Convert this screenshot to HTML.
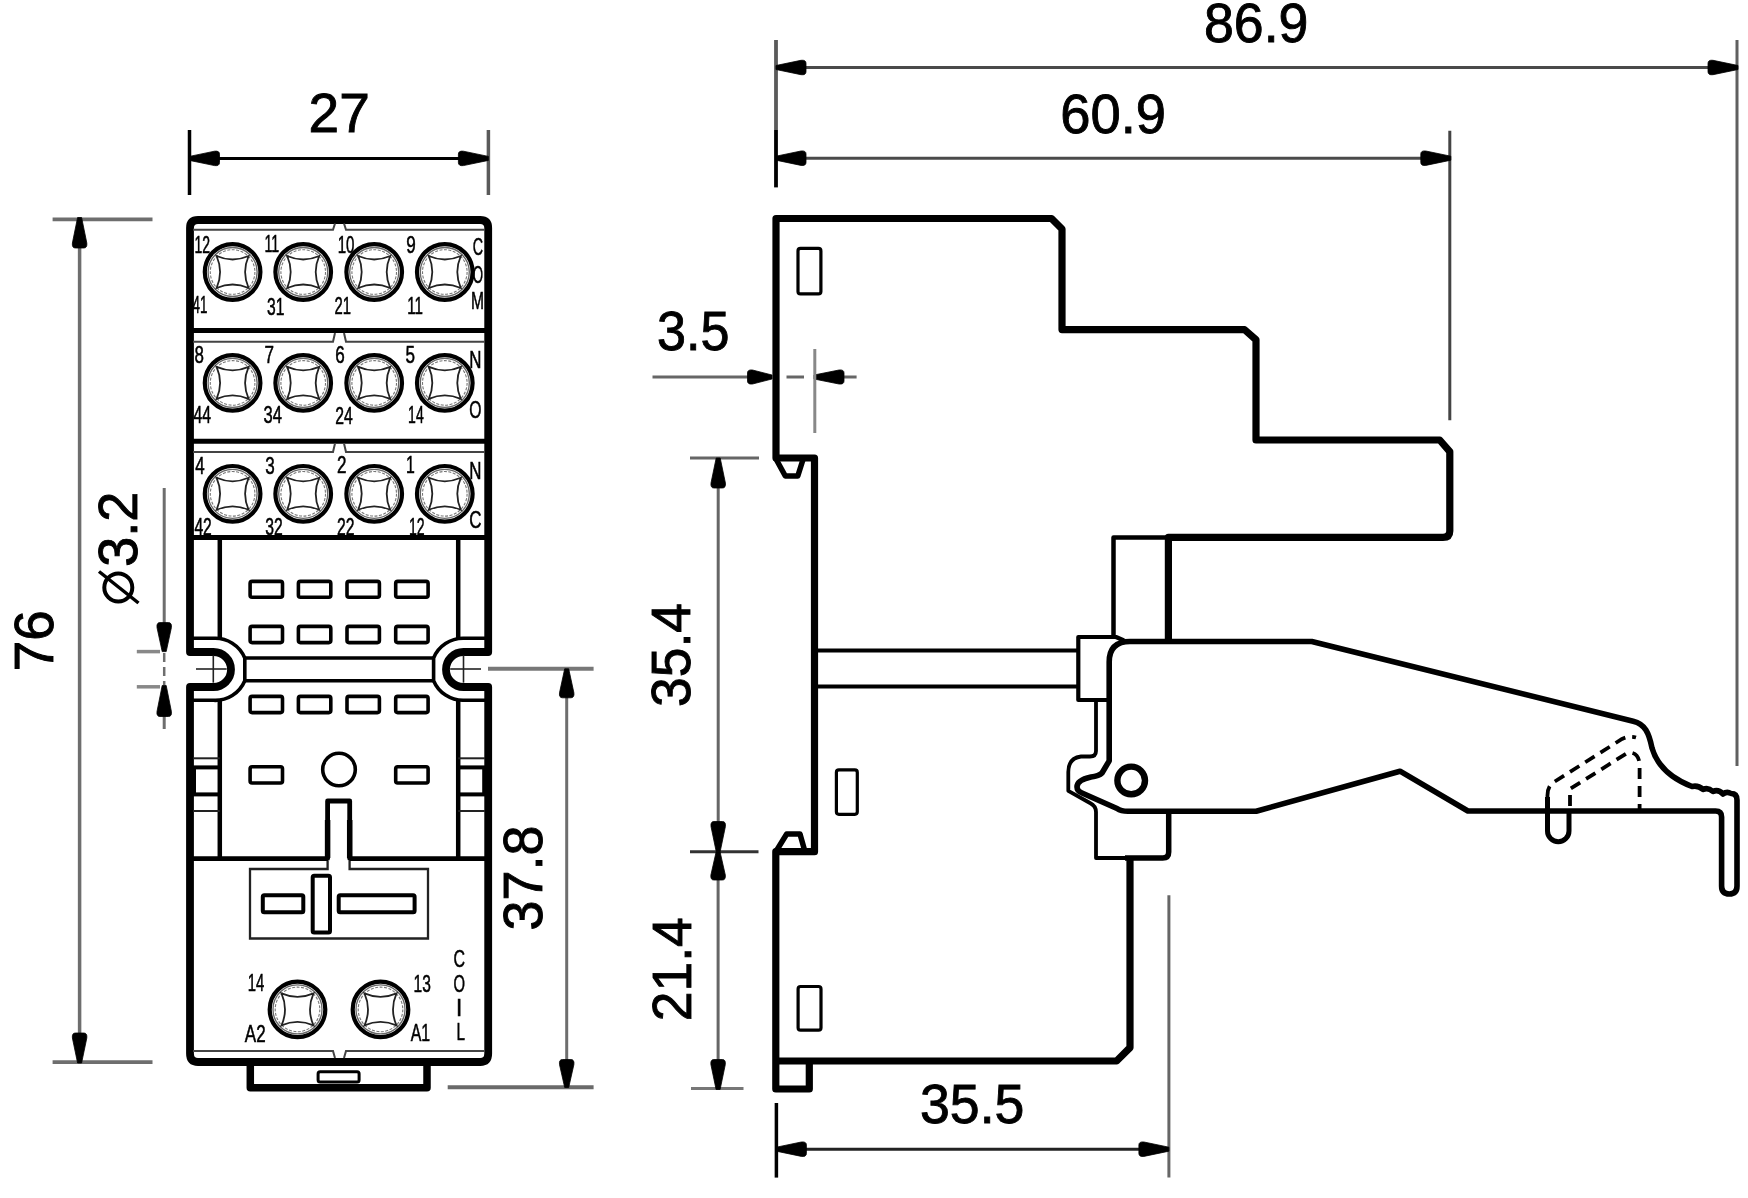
<!DOCTYPE html><html><head><meta charset="utf-8"><title>Relay socket drawing</title><style>html,body{margin:0;padding:0;background:#fff;width:1748px;height:1198px;overflow:hidden}svg{display:block;font-family:"Liberation Sans",sans-serif;will-change:transform}</style></head><body><svg width="1748" height="1198" viewBox="0 0 1748 1198" font-family="Liberation Sans, sans-serif" fill="#000">
<rect width="1748" height="1198" fill="#fff"/>
<line x1="189.5" y1="130" x2="189.5" y2="195" stroke="#000" stroke-width="3.5" />
<line x1="488.4" y1="130" x2="488.4" y2="195" stroke="#5a5a5a" stroke-width="3.5" />
<line x1="200" y1="158.4" x2="478" y2="158.4" stroke="#000" stroke-width="3" />
<path d="M-2.0,0 L2.0,0 L7.2,25.0 Q7.8,30 4.2,30 H-4.2 Q-7.8,30 -7.2,25.0 Z" fill="#000" stroke="#000" stroke-width="0.8" stroke-linejoin="round" transform="translate(189.5,158.4) rotate(270)"/>
<path d="M-2.0,0 L2.0,0 L7.2,25.0 Q7.8,30 4.2,30 H-4.2 Q-7.8,30 -7.2,25.0 Z" fill="#000" stroke="#000" stroke-width="0.8" stroke-linejoin="round" transform="translate(488.4,158.4) rotate(90)"/>
<text x="339.2" y="132" font-size="55" text-anchor="middle" stroke="#000" stroke-width="0.9">27</text>
<line x1="52.6" y1="219.3" x2="152.5" y2="219.3" stroke="#6e6e6e" stroke-width="3.8" />
<line x1="52.6" y1="1062.2" x2="152.5" y2="1062.2" stroke="#6e6e6e" stroke-width="3.8" />
<line x1="79.6" y1="235" x2="79.6" y2="1045" stroke="#6e6e6e" stroke-width="3.5" />
<path d="M-2.0,0 L2.0,0 L7.2,25.5 Q7.8,30.5 4.2,30.5 H-4.2 Q-7.8,30.5 -7.2,25.5 Z" fill="#000" stroke="#000" stroke-width="0.8" stroke-linejoin="round" transform="translate(79.6,217.5) rotate(0)"/>
<path d="M-2.0,0 L2.0,0 L7.2,25.0 Q7.8,30 4.2,30 H-4.2 Q-7.8,30 -7.2,25.0 Z" fill="#000" stroke="#000" stroke-width="0.8" stroke-linejoin="round" transform="translate(79.6,1063) rotate(180)"/>
<text x="0" y="0" font-size="55" text-anchor="middle" stroke="#000" stroke-width="0.9" textLength="60.9" lengthAdjust="spacingAndGlyphs" transform="translate(53.3,640.8) rotate(-90)">76</text>
<line x1="164.2" y1="488" x2="164.2" y2="640" stroke="#6e6e6e" stroke-width="3" />
<line x1="164.2" y1="653" x2="164.2" y2="685" stroke="#6e6e6e" stroke-width="2.5" stroke-dasharray="9 5"/>
<line x1="164.2" y1="700" x2="164.2" y2="729" stroke="#6e6e6e" stroke-width="3" />
<path d="M-2.0,0 L2.0,0 L7.2,24.0 Q7.8,29 4.2,29 H-4.2 Q-7.8,29 -7.2,24.0 Z" fill="#000" stroke="#000" stroke-width="0.8" stroke-linejoin="round" transform="translate(164.2,651.6) rotate(180)"/>
<path d="M-2.0,0 L2.0,0 L7.2,26.0 Q7.8,31 4.2,31 H-4.2 Q-7.8,31 -7.2,26.0 Z" fill="#000" stroke="#000" stroke-width="0.8" stroke-linejoin="round" transform="translate(164.2,685.5) rotate(0)"/>
<line x1="136.8" y1="651.6" x2="160" y2="651.6" stroke="#888" stroke-width="3.5" />
<line x1="136.8" y1="686.8" x2="160" y2="686.8" stroke="#888" stroke-width="3.5" />
<circle cx="118.3" cy="587.5" r="14" fill="none" stroke="#000" stroke-width="4"/>
<line x1="99" y1="571.5" x2="138.5" y2="603" stroke="#000" stroke-width="3.5" />
<text x="0" y="0" font-size="55" text-anchor="middle" stroke="#000" stroke-width="0.9" textLength="75.1" lengthAdjust="spacingAndGlyphs" transform="translate(137,529.3) rotate(-90)">3.2</text>
<line x1="488" y1="668.8" x2="593.6" y2="668.8" stroke="#777" stroke-width="4" />
<line x1="447.7" y1="1087.2" x2="593.6" y2="1087.2" stroke="#6a6a6a" stroke-width="4" />
<line x1="566.7" y1="680" x2="566.7" y2="1075" stroke="#6e6e6e" stroke-width="3" />
<path d="M-2.0,0 L2.0,0 L7.2,24.0 Q7.8,29 4.2,29 H-4.2 Q-7.8,29 -7.2,24.0 Z" fill="#000" stroke="#000" stroke-width="0.8" stroke-linejoin="round" transform="translate(566.7,668.8) rotate(0)"/>
<path d="M-2.0,0 L2.0,0 L7.2,23.0 Q7.8,28 4.2,28 H-4.2 Q-7.8,28 -7.2,23.0 Z" fill="#000" stroke="#000" stroke-width="0.8" stroke-linejoin="round" transform="translate(566.7,1087.5) rotate(180)"/>
<text x="0" y="0" font-size="55" text-anchor="middle" stroke="#000" stroke-width="0.9" textLength="104.8" lengthAdjust="spacingAndGlyphs" transform="translate(542.1,878) rotate(-90)">37.8</text>
<path d="M190,228 Q190,220 198,220 H480.2 Q488.2,220 488.2,228 V652.0 H463.5 A17.5,17.5 0 0 0 463.5,687.0 H488.2 V1053.5 Q488.2,1062 480.2,1062 H198 Q190,1062 190,1053.5 V687.0 H213.5 A17.5,17.5 0 0 0 213.5,652.0 H190 Z" fill="none" stroke="#000" stroke-width="7.8" stroke-linejoin="round"/>
<line x1="193" y1="330.5" x2="485" y2="330.5" stroke="#000" stroke-width="5" />
<line x1="193" y1="441.2" x2="485" y2="441.2" stroke="#000" stroke-width="5" />
<line x1="193" y1="537.5" x2="485" y2="537.5" stroke="#000" stroke-width="5" />
<path d="M193,229.8 H333 L335,223.5 M344,223.5 L346,229.8 H485" fill="none" stroke="#444" stroke-width="2"/>
<path d="M193,341.7 H333 L335,333 M344,333 L346,341.7 H485" fill="none" stroke="#444" stroke-width="2"/>
<path d="M193,452.0 H333 L335,443.5 M344,443.5 L346,452.0 H485" fill="none" stroke="#444" stroke-width="2"/>
<path d="M193,1051 H333 L335,1058 M344,1058 L346,1051 H485" fill="none" stroke="#444" stroke-width="2"/>
<circle cx="232.6" cy="272" r="27.8" fill="none" stroke="#000" stroke-width="4.2"/>
<circle cx="232.6" cy="272" r="24.5" fill="none" stroke="#666" stroke-width="1.3"/>
<circle cx="232.6" cy="272" r="22.3" fill="none" stroke="#777" stroke-width="1.1" stroke-dasharray="3 1.5"/>
<path d="M216.6,256 Q232.6,263.0 248.6,256 Q241.6,272 248.6,288 Q232.6,281.0 216.6,288 Q223.6,272 216.6,256Z" fill="none" stroke="#222" stroke-width="1.8"/>
<circle cx="303.2" cy="272" r="27.8" fill="none" stroke="#000" stroke-width="4.2"/>
<circle cx="303.2" cy="272" r="24.5" fill="none" stroke="#666" stroke-width="1.3"/>
<circle cx="303.2" cy="272" r="22.3" fill="none" stroke="#777" stroke-width="1.1" stroke-dasharray="3 1.5"/>
<path d="M287.2,256 Q303.2,263.0 319.2,256 Q312.2,272 319.2,288 Q303.2,281.0 287.2,288 Q294.2,272 287.2,256Z" fill="none" stroke="#222" stroke-width="1.8"/>
<circle cx="374.2" cy="272" r="27.8" fill="none" stroke="#000" stroke-width="4.2"/>
<circle cx="374.2" cy="272" r="24.5" fill="none" stroke="#666" stroke-width="1.3"/>
<circle cx="374.2" cy="272" r="22.3" fill="none" stroke="#777" stroke-width="1.1" stroke-dasharray="3 1.5"/>
<path d="M358.2,256 Q374.2,263.0 390.2,256 Q383.2,272 390.2,288 Q374.2,281.0 358.2,288 Q365.2,272 358.2,256Z" fill="none" stroke="#222" stroke-width="1.8"/>
<circle cx="444.8" cy="272" r="27.8" fill="none" stroke="#000" stroke-width="4.2"/>
<circle cx="444.8" cy="272" r="24.5" fill="none" stroke="#666" stroke-width="1.3"/>
<circle cx="444.8" cy="272" r="22.3" fill="none" stroke="#777" stroke-width="1.1" stroke-dasharray="3 1.5"/>
<path d="M428.8,256 Q444.8,263.0 460.8,256 Q453.8,272 460.8,288 Q444.8,281.0 428.8,288 Q435.8,272 428.8,256Z" fill="none" stroke="#222" stroke-width="1.8"/>
<circle cx="232.6" cy="382.9" r="27.8" fill="none" stroke="#000" stroke-width="4.2"/>
<circle cx="232.6" cy="382.9" r="24.5" fill="none" stroke="#666" stroke-width="1.3"/>
<circle cx="232.6" cy="382.9" r="22.3" fill="none" stroke="#777" stroke-width="1.1" stroke-dasharray="3 1.5"/>
<path d="M216.6,366.9 Q232.6,373.9 248.6,366.9 Q241.6,382.9 248.6,398.9 Q232.6,391.9 216.6,398.9 Q223.6,382.9 216.6,366.9Z" fill="none" stroke="#222" stroke-width="1.8"/>
<circle cx="303.2" cy="382.9" r="27.8" fill="none" stroke="#000" stroke-width="4.2"/>
<circle cx="303.2" cy="382.9" r="24.5" fill="none" stroke="#666" stroke-width="1.3"/>
<circle cx="303.2" cy="382.9" r="22.3" fill="none" stroke="#777" stroke-width="1.1" stroke-dasharray="3 1.5"/>
<path d="M287.2,366.9 Q303.2,373.9 319.2,366.9 Q312.2,382.9 319.2,398.9 Q303.2,391.9 287.2,398.9 Q294.2,382.9 287.2,366.9Z" fill="none" stroke="#222" stroke-width="1.8"/>
<circle cx="374.2" cy="382.9" r="27.8" fill="none" stroke="#000" stroke-width="4.2"/>
<circle cx="374.2" cy="382.9" r="24.5" fill="none" stroke="#666" stroke-width="1.3"/>
<circle cx="374.2" cy="382.9" r="22.3" fill="none" stroke="#777" stroke-width="1.1" stroke-dasharray="3 1.5"/>
<path d="M358.2,366.9 Q374.2,373.9 390.2,366.9 Q383.2,382.9 390.2,398.9 Q374.2,391.9 358.2,398.9 Q365.2,382.9 358.2,366.9Z" fill="none" stroke="#222" stroke-width="1.8"/>
<circle cx="444.8" cy="382.9" r="27.8" fill="none" stroke="#000" stroke-width="4.2"/>
<circle cx="444.8" cy="382.9" r="24.5" fill="none" stroke="#666" stroke-width="1.3"/>
<circle cx="444.8" cy="382.9" r="22.3" fill="none" stroke="#777" stroke-width="1.1" stroke-dasharray="3 1.5"/>
<path d="M428.8,366.9 Q444.8,373.9 460.8,366.9 Q453.8,382.9 460.8,398.9 Q444.8,391.9 428.8,398.9 Q435.8,382.9 428.8,366.9Z" fill="none" stroke="#222" stroke-width="1.8"/>
<circle cx="232.6" cy="493.8" r="27.8" fill="none" stroke="#000" stroke-width="4.2"/>
<circle cx="232.6" cy="493.8" r="24.5" fill="none" stroke="#666" stroke-width="1.3"/>
<circle cx="232.6" cy="493.8" r="22.3" fill="none" stroke="#777" stroke-width="1.1" stroke-dasharray="3 1.5"/>
<path d="M216.6,477.8 Q232.6,484.8 248.6,477.8 Q241.6,493.8 248.6,509.8 Q232.6,502.8 216.6,509.8 Q223.6,493.8 216.6,477.8Z" fill="none" stroke="#222" stroke-width="1.8"/>
<circle cx="303.2" cy="493.8" r="27.8" fill="none" stroke="#000" stroke-width="4.2"/>
<circle cx="303.2" cy="493.8" r="24.5" fill="none" stroke="#666" stroke-width="1.3"/>
<circle cx="303.2" cy="493.8" r="22.3" fill="none" stroke="#777" stroke-width="1.1" stroke-dasharray="3 1.5"/>
<path d="M287.2,477.8 Q303.2,484.8 319.2,477.8 Q312.2,493.8 319.2,509.8 Q303.2,502.8 287.2,509.8 Q294.2,493.8 287.2,477.8Z" fill="none" stroke="#222" stroke-width="1.8"/>
<circle cx="374.2" cy="493.8" r="27.8" fill="none" stroke="#000" stroke-width="4.2"/>
<circle cx="374.2" cy="493.8" r="24.5" fill="none" stroke="#666" stroke-width="1.3"/>
<circle cx="374.2" cy="493.8" r="22.3" fill="none" stroke="#777" stroke-width="1.1" stroke-dasharray="3 1.5"/>
<path d="M358.2,477.8 Q374.2,484.8 390.2,477.8 Q383.2,493.8 390.2,509.8 Q374.2,502.8 358.2,509.8 Q365.2,493.8 358.2,477.8Z" fill="none" stroke="#222" stroke-width="1.8"/>
<circle cx="444.8" cy="493.8" r="27.8" fill="none" stroke="#000" stroke-width="4.2"/>
<circle cx="444.8" cy="493.8" r="24.5" fill="none" stroke="#666" stroke-width="1.3"/>
<circle cx="444.8" cy="493.8" r="22.3" fill="none" stroke="#777" stroke-width="1.1" stroke-dasharray="3 1.5"/>
<path d="M428.8,477.8 Q444.8,484.8 460.8,477.8 Q453.8,493.8 460.8,509.8 Q444.8,502.8 428.8,509.8 Q435.8,493.8 428.8,477.8Z" fill="none" stroke="#222" stroke-width="1.8"/>
<text x="194.4" y="252.5" font-size="24" font-weight="normal" stroke="#000" stroke-width="0.55" textLength="15.599999999999994" lengthAdjust="spacingAndGlyphs">12</text>
<text x="264.4" y="251.6" font-size="24" font-weight="normal" stroke="#000" stroke-width="0.55" textLength="14.800000000000011" lengthAdjust="spacingAndGlyphs">11</text>
<text x="337.7" y="253.4" font-size="24" font-weight="normal" stroke="#000" stroke-width="0.55" textLength="16.80000000000001" lengthAdjust="spacingAndGlyphs">10</text>
<text x="406.3" y="252.5" font-size="24" font-weight="normal" stroke="#000" stroke-width="0.55" textLength="9.5" lengthAdjust="spacingAndGlyphs">9</text>
<text x="192.5" y="312.8" font-size="24" font-weight="normal" stroke="#000" stroke-width="0.55" textLength="14.900000000000006" lengthAdjust="spacingAndGlyphs">41</text>
<text x="267.1" y="315.4" font-size="24" font-weight="normal" stroke="#000" stroke-width="0.55" textLength="17.399999999999977" lengthAdjust="spacingAndGlyphs">31</text>
<text x="334.5" y="313.7" font-size="24" font-weight="normal" stroke="#000" stroke-width="0.55" textLength="16.5" lengthAdjust="spacingAndGlyphs">21</text>
<text x="407.2" y="313.7" font-size="24" font-weight="normal" stroke="#000" stroke-width="0.55" textLength="15.699999999999989" lengthAdjust="spacingAndGlyphs">11</text>
<text x="472.8" y="255.1" font-size="24" font-weight="normal" stroke="#000" stroke-width="0.55" textLength="10.300000000000011" lengthAdjust="spacingAndGlyphs">C</text>
<text x="472.8" y="282.6" font-size="24" font-weight="normal" stroke="#000" stroke-width="0.55" textLength="10.300000000000011" lengthAdjust="spacingAndGlyphs">O</text>
<text x="471.0" y="309.2" font-size="24" font-weight="normal" stroke="#000" stroke-width="0.55" textLength="13.0" lengthAdjust="spacingAndGlyphs">M</text>
<text x="194.4" y="362.5" font-size="24" font-weight="normal" stroke="#000" stroke-width="0.55" textLength="9.400000000000006" lengthAdjust="spacingAndGlyphs">8</text>
<text x="264.4" y="362.5" font-size="24" font-weight="normal" stroke="#000" stroke-width="0.55" textLength="9.5" lengthAdjust="spacingAndGlyphs">7</text>
<text x="335.3" y="362.5" font-size="24" font-weight="normal" stroke="#000" stroke-width="0.55" textLength="9.5" lengthAdjust="spacingAndGlyphs">6</text>
<text x="405.4" y="362.5" font-size="24" font-weight="normal" stroke="#000" stroke-width="0.55" textLength="9.5" lengthAdjust="spacingAndGlyphs">5</text>
<text x="193.5" y="422.8" font-size="24" font-weight="normal" stroke="#000" stroke-width="0.55" textLength="17.5" lengthAdjust="spacingAndGlyphs">44</text>
<text x="263.5" y="422.8" font-size="24" font-weight="normal" stroke="#000" stroke-width="0.55" textLength="18.399999999999977" lengthAdjust="spacingAndGlyphs">34</text>
<text x="335.3" y="423.7" font-size="24" font-weight="normal" stroke="#000" stroke-width="0.55" textLength="17.5" lengthAdjust="spacingAndGlyphs">24</text>
<text x="408.1" y="422.8" font-size="24" font-weight="normal" stroke="#000" stroke-width="0.55" textLength="15.599999999999966" lengthAdjust="spacingAndGlyphs">14</text>
<text x="469.2" y="367.8" font-size="24" font-weight="normal" stroke="#000" stroke-width="0.55" textLength="12.199999999999989" lengthAdjust="spacingAndGlyphs">N</text>
<text x="469.2" y="417.5" font-size="24" font-weight="normal" stroke="#000" stroke-width="0.55" textLength="12.199999999999989" lengthAdjust="spacingAndGlyphs">O</text>
<text x="195.3" y="474.3" font-size="24" font-weight="normal" stroke="#000" stroke-width="0.55" textLength="9.399999999999977" lengthAdjust="spacingAndGlyphs">4</text>
<text x="265.3" y="474.3" font-size="24" font-weight="normal" stroke="#000" stroke-width="0.55" textLength="9.5" lengthAdjust="spacingAndGlyphs">3</text>
<text x="337.1" y="473.4" font-size="24" font-weight="normal" stroke="#000" stroke-width="0.55" textLength="9.5" lengthAdjust="spacingAndGlyphs">2</text>
<text x="406.1" y="472.5" font-size="24" font-weight="normal" stroke="#000" stroke-width="0.55" textLength="8.799999999999955" lengthAdjust="spacingAndGlyphs">1</text>
<text x="194.4" y="534.6" font-size="24" font-weight="normal" stroke="#000" stroke-width="0.55" textLength="17.400000000000006" lengthAdjust="spacingAndGlyphs">42</text>
<text x="265.3" y="534.6" font-size="24" font-weight="normal" stroke="#000" stroke-width="0.55" textLength="17.5" lengthAdjust="spacingAndGlyphs">32</text>
<text x="337.1" y="534.6" font-size="24" font-weight="normal" stroke="#000" stroke-width="0.55" textLength="17.5" lengthAdjust="spacingAndGlyphs">22</text>
<text x="408.9" y="534.6" font-size="24" font-weight="normal" stroke="#000" stroke-width="0.55" textLength="15.700000000000045" lengthAdjust="spacingAndGlyphs">12</text>
<text x="469.2" y="478.7" font-size="24" font-weight="normal" stroke="#000" stroke-width="0.55" textLength="12.199999999999989" lengthAdjust="spacingAndGlyphs">N</text>
<text x="469.2" y="528.3" font-size="24" font-weight="normal" stroke="#000" stroke-width="0.55" textLength="12.199999999999989" lengthAdjust="spacingAndGlyphs">C</text>
<line x1="219.8" y1="538" x2="219.8" y2="638.5" stroke="#000" stroke-width="4.5" />
<line x1="219.8" y1="700.5" x2="219.8" y2="858.5" stroke="#000" stroke-width="4.5" />
<line x1="458.2" y1="538" x2="458.2" y2="638.5" stroke="#000" stroke-width="4.5" />
<line x1="458.2" y1="700.5" x2="458.2" y2="858.5" stroke="#000" stroke-width="4.5" />
<path d="M193,638.3 H213.5 A32,32 0 0 1 244.8,658 V680.7 A32,32 0 0 1 213.5,700.3 H193" fill="none" stroke="#000" stroke-width="3.6" stroke-linejoin="round"/>
<path d="M485,638.3 H463.5 A32,32 0 0 0 433.6,658 V680.7 A32,32 0 0 0 463.5,700.3 H485" fill="none" stroke="#000" stroke-width="3.6" stroke-linejoin="round"/>
<line x1="244.8" y1="658" x2="433.6" y2="658" stroke="#000" stroke-width="3.6" />
<line x1="244.8" y1="680.7" x2="433.6" y2="680.7" stroke="#000" stroke-width="3.6" />
<line x1="196" y1="669" x2="226.7" y2="669" stroke="#222" stroke-width="1.6" />
<line x1="213.3" y1="655.3" x2="213.3" y2="682.7" stroke="#222" stroke-width="1.6" />
<line x1="450.2" y1="669" x2="481" y2="669" stroke="#222" stroke-width="1.6" />
<line x1="463.5" y1="655.3" x2="463.5" y2="682.7" stroke="#222" stroke-width="1.6" />
<line x1="193" y1="758.3" x2="219.8" y2="758.3" stroke="#222" stroke-width="2" />
<line x1="193" y1="767.4" x2="219.8" y2="767.4" stroke="#000" stroke-width="4" />
<line x1="193" y1="794.4" x2="219.8" y2="794.4" stroke="#000" stroke-width="4" />
<line x1="193" y1="811" x2="219.8" y2="811" stroke="#222" stroke-width="2" />
<line x1="458.2" y1="758.3" x2="485" y2="758.3" stroke="#222" stroke-width="2" />
<line x1="458.2" y1="767.4" x2="485" y2="767.4" stroke="#000" stroke-width="4" />
<line x1="458.2" y1="794.4" x2="485" y2="794.4" stroke="#000" stroke-width="4" />
<line x1="458.2" y1="811" x2="485" y2="811" stroke="#222" stroke-width="2" />
<line x1="194.5" y1="767.4" x2="194.5" y2="794.4" stroke="#000" stroke-width="3" />
<line x1="483.7" y1="767.4" x2="483.7" y2="794.4" stroke="#000" stroke-width="3" />
<rect x="250.10000000000002" y="581.4" width="32.4" height="15.799999999999978" rx="2" fill="none" stroke="#000" stroke-width="3.6"/>
<rect x="298.40000000000003" y="581.4" width="32.4" height="15.799999999999978" rx="2" fill="none" stroke="#000" stroke-width="3.6"/>
<rect x="347.0" y="581.4" width="32.4" height="15.799999999999978" rx="2" fill="none" stroke="#000" stroke-width="3.6"/>
<rect x="395.7" y="581.4" width="32.4" height="15.799999999999978" rx="2" fill="none" stroke="#000" stroke-width="3.6"/>
<rect x="250.10000000000002" y="626.4" width="32.4" height="16.199999999999953" rx="2" fill="none" stroke="#000" stroke-width="3.6"/>
<rect x="298.40000000000003" y="626.4" width="32.4" height="16.199999999999953" rx="2" fill="none" stroke="#000" stroke-width="3.6"/>
<rect x="347.0" y="626.4" width="32.4" height="16.199999999999953" rx="2" fill="none" stroke="#000" stroke-width="3.6"/>
<rect x="395.7" y="626.4" width="32.4" height="16.199999999999953" rx="2" fill="none" stroke="#000" stroke-width="3.6"/>
<rect x="250.10000000000002" y="696.4" width="32.4" height="16.199999999999953" rx="2" fill="none" stroke="#000" stroke-width="3.6"/>
<rect x="298.40000000000003" y="696.4" width="32.4" height="16.199999999999953" rx="2" fill="none" stroke="#000" stroke-width="3.6"/>
<rect x="347.0" y="696.4" width="32.4" height="16.199999999999953" rx="2" fill="none" stroke="#000" stroke-width="3.6"/>
<rect x="395.7" y="696.4" width="32.4" height="16.199999999999953" rx="2" fill="none" stroke="#000" stroke-width="3.6"/>
<rect x="250.10000000000002" y="766.8" width="32.4" height="16.199999999999953" rx="2" fill="none" stroke="#000" stroke-width="3.6"/>
<rect x="395.7" y="766.8" width="32.4" height="16.199999999999953" rx="2" fill="none" stroke="#000" stroke-width="3.6"/>
<circle cx="339" cy="769.5" r="16.3" fill="none" stroke="#000" stroke-width="3.6"/>
<path d="M193,858.6 H327.6 V801 H349.7 V858.6 H485" fill="none" stroke="#000" stroke-width="4.8" stroke-linejoin="round"/>
<line x1="327.6" y1="820" x2="327.6" y2="858" stroke="#000" stroke-width="5.5" />
<line x1="349.7" y1="820" x2="349.7" y2="858" stroke="#000" stroke-width="5.5" />
<path d="M327.6,861 V869 H250 V938.5 H428 V869 H349.6 V861" fill="none" stroke="#222" stroke-width="2.3"/>
<rect x="262.8" y="895.2" width="40.5" height="17.09999999999991" rx="1.5" fill="none" stroke="#000" stroke-width="4"/>
<rect x="312.7" y="875.7" width="17.30000000000001" height="56.69999999999993" rx="1.5" fill="none" stroke="#000" stroke-width="4"/>
<rect x="338.7" y="895.2" width="75.90000000000003" height="17.09999999999991" rx="1.5" fill="none" stroke="#000" stroke-width="4"/>
<circle cx="297.5" cy="1009.4" r="27.8" fill="none" stroke="#000" stroke-width="4.2"/>
<circle cx="297.5" cy="1009.4" r="24.5" fill="none" stroke="#666" stroke-width="1.3"/>
<circle cx="297.5" cy="1009.4" r="22.3" fill="none" stroke="#777" stroke-width="1.1" stroke-dasharray="3 1.5"/>
<path d="M281.5,993.4 Q297.5,1000.4 313.5,993.4 Q306.5,1009.4 313.5,1025.4 Q297.5,1018.4 281.5,1025.4 Q288.5,1009.4 281.5,993.4Z" fill="none" stroke="#222" stroke-width="1.8"/>
<circle cx="380.5" cy="1009.4" r="27.8" fill="none" stroke="#000" stroke-width="4.2"/>
<circle cx="380.5" cy="1009.4" r="24.5" fill="none" stroke="#666" stroke-width="1.3"/>
<circle cx="380.5" cy="1009.4" r="22.3" fill="none" stroke="#777" stroke-width="1.1" stroke-dasharray="3 1.5"/>
<path d="M364.5,993.4 Q380.5,1000.4 396.5,993.4 Q389.5,1009.4 396.5,1025.4 Q380.5,1018.4 364.5,1025.4 Q371.5,1009.4 364.5,993.4Z" fill="none" stroke="#222" stroke-width="1.8"/>
<text x="247.7" y="990.8" font-size="24" font-weight="normal" stroke="#000" stroke-width="0.55" textLength="16.5" lengthAdjust="spacingAndGlyphs">14</text>
<text x="244.8" y="1041.5" font-size="24" font-weight="normal" stroke="#000" stroke-width="0.55" textLength="20.80000000000001" lengthAdjust="spacingAndGlyphs">A2</text>
<text x="413.5" y="991.5" font-size="24" font-weight="normal" stroke="#000" stroke-width="0.55" textLength="17.30000000000001" lengthAdjust="spacingAndGlyphs">13</text>
<text x="410.7" y="1040.8" font-size="24" font-weight="normal" stroke="#000" stroke-width="0.55" textLength="19.400000000000034" lengthAdjust="spacingAndGlyphs">A1</text>
<text x="453.6" y="967.2" font-size="24" font-weight="normal" stroke="#000" stroke-width="0.55" textLength="11.5" lengthAdjust="spacingAndGlyphs">C</text>
<text x="453.6" y="992.2" font-size="24" font-weight="normal" stroke="#000" stroke-width="0.55" textLength="11.5" lengthAdjust="spacingAndGlyphs">O</text>
<text x="455.9" y="1015.8" font-size="24" font-weight="normal" stroke="#000" stroke-width="0.55" textLength="6.2000000000000455" lengthAdjust="spacingAndGlyphs">I</text>
<text x="456.5" y="1040.1" font-size="24" font-weight="normal" stroke="#000" stroke-width="0.55" textLength="8.5" lengthAdjust="spacingAndGlyphs">L</text>
<path d="M250.3,1062 V1087.8 H427 V1062" fill="none" stroke="#000" stroke-width="7.5" stroke-linejoin="round"/>
<rect x="318.1" y="1071.8" width="41.0" height="10.200000000000045" rx="2" fill="none" stroke="#000" stroke-width="3"/>
<line x1="776" y1="40" x2="776" y2="130" stroke="#5a5a5a" stroke-width="3.8" />
<line x1="776" y1="130" x2="776" y2="187.4" stroke="#000" stroke-width="3.8" />
<line x1="1737" y1="40" x2="1737" y2="766" stroke="#606060" stroke-width="3" />
<line x1="800" y1="67.5" x2="1715" y2="67.5" stroke="#4a4a4a" stroke-width="3" />
<path d="M-2.0,0 L2.0,0 L7.2,25.0 Q7.8,30 4.2,30 H-4.2 Q-7.8,30 -7.2,25.0 Z" fill="#000" stroke="#000" stroke-width="0.8" stroke-linejoin="round" transform="translate(776,67.5) rotate(270)"/>
<path d="M-2.0,0 L2.0,0 L7.2,25.0 Q7.8,30 4.2,30 H-4.2 Q-7.8,30 -7.2,25.0 Z" fill="#000" stroke="#000" stroke-width="0.8" stroke-linejoin="round" transform="translate(1738,67.5) rotate(90)"/>
<text x="1256.2" y="42" font-size="55" text-anchor="middle" stroke="#000" stroke-width="0.9" textLength="104.4" lengthAdjust="spacingAndGlyphs">86.9</text>
<line x1="1449.8" y1="130.8" x2="1449.8" y2="420.2" stroke="#444" stroke-width="3" />
<line x1="800" y1="158.2" x2="1430" y2="158.2" stroke="#4a4a4a" stroke-width="3" />
<path d="M-2.0,0 L2.0,0 L7.2,25.0 Q7.8,30 4.2,30 H-4.2 Q-7.8,30 -7.2,25.0 Z" fill="#000" stroke="#000" stroke-width="0.8" stroke-linejoin="round" transform="translate(776,158.2) rotate(270)"/>
<path d="M-2.0,0 L2.0,0 L7.2,25.0 Q7.8,30 4.2,30 H-4.2 Q-7.8,30 -7.2,25.0 Z" fill="#000" stroke="#000" stroke-width="0.8" stroke-linejoin="round" transform="translate(1450.8,158.2) rotate(90)"/>
<text x="1113.1" y="132.6" font-size="55" text-anchor="middle" stroke="#000" stroke-width="0.9" textLength="105.8" lengthAdjust="spacingAndGlyphs">60.9</text>
<line x1="652.5" y1="377" x2="760" y2="377" stroke="#666" stroke-width="3" />
<line x1="786.5" y1="377" x2="804" y2="377" stroke="#666" stroke-width="3" />
<line x1="835" y1="377" x2="856.6" y2="377" stroke="#666" stroke-width="3" />
<path d="M-2.0,0 L2.0,0 L7,19.5 Q7.6,24.5 4,24.5 H-4 Q-7.6,24.5 -7,19.5 Z" fill="#000" stroke="#000" stroke-width="0.8" stroke-linejoin="round" transform="translate(772,377) rotate(90)"/>
<path d="M-2.0,0 L2.0,0 L7,25.0 Q7.6,30 4,30 H-4 Q-7.6,30 -7,25.0 Z" fill="#000" stroke="#000" stroke-width="0.8" stroke-linejoin="round" transform="translate(814,377) rotate(270)"/>
<line x1="814.8" y1="349" x2="814.8" y2="433" stroke="#888" stroke-width="3" />
<text x="693.2" y="350.3" font-size="55" text-anchor="middle" stroke="#000" stroke-width="0.9" textLength="72.4" lengthAdjust="spacingAndGlyphs">3.5</text>
<line x1="690" y1="458" x2="759" y2="458" stroke="#666" stroke-width="3" />
<line x1="690" y1="851.7" x2="758.5" y2="851.7" stroke="#333" stroke-width="3" />
<line x1="691" y1="1088.6" x2="743.5" y2="1088.6" stroke="#777" stroke-width="3" />
<line x1="718.2" y1="470" x2="718.2" y2="840" stroke="#666" stroke-width="3" />
<line x1="718.1" y1="865" x2="718.1" y2="1075" stroke="#666" stroke-width="3" />
<path d="M-2.0,0 L2.0,0 L7.2,25.0 Q7.8,30 4.2,30 H-4.2 Q-7.8,30 -7.2,25.0 Z" fill="#000" stroke="#000" stroke-width="0.8" stroke-linejoin="round" transform="translate(718.2,458) rotate(0)"/>
<path d="M-2.0,0 L2.0,0 L7.2,25.0 Q7.8,30 4.2,30 H-4.2 Q-7.8,30 -7.2,25.0 Z" fill="#000" stroke="#000" stroke-width="0.8" stroke-linejoin="round" transform="translate(718.2,851.5) rotate(180)"/>
<path d="M-2.0,0 L2.0,0 L7.2,23.0 Q7.8,28 4.2,28 H-4.2 Q-7.8,28 -7.2,23.0 Z" fill="#000" stroke="#000" stroke-width="0.8" stroke-linejoin="round" transform="translate(718.1,852) rotate(0)"/>
<path d="M-2.0,0 L2.0,0 L7.2,25.0 Q7.8,30 4.2,30 H-4.2 Q-7.8,30 -7.2,25.0 Z" fill="#000" stroke="#000" stroke-width="0.8" stroke-linejoin="round" transform="translate(718.1,1089.5) rotate(180)"/>
<text x="0" y="0" font-size="55" text-anchor="middle" stroke="#000" stroke-width="0.9" textLength="103.8" lengthAdjust="spacingAndGlyphs" transform="translate(690.4,655) rotate(-90)">35.4</text>
<text x="0" y="0" font-size="55" text-anchor="middle" stroke="#000" stroke-width="0.9" textLength="103.9" lengthAdjust="spacingAndGlyphs" transform="translate(690.5,969.3) rotate(-90)">21.4</text>
<line x1="776.4" y1="1103" x2="776.4" y2="1177.6" stroke="#000" stroke-width="3.5" />
<line x1="1168.9" y1="895.3" x2="1168.9" y2="1177.6" stroke="#666" stroke-width="3" />
<line x1="790" y1="1149.2" x2="1150" y2="1149.2" stroke="#222" stroke-width="3" />
<path d="M-2.0,0 L2.0,0 L7.2,25.0 Q7.8,30 4.2,30 H-4.2 Q-7.8,30 -7.2,25.0 Z" fill="#000" stroke="#000" stroke-width="0.8" stroke-linejoin="round" transform="translate(776.4,1149.2) rotate(270)"/>
<path d="M-2.0,0 L2.0,0 L7.2,25.0 Q7.8,30 4.2,30 H-4.2 Q-7.8,30 -7.2,25.0 Z" fill="#000" stroke="#000" stroke-width="0.8" stroke-linejoin="round" transform="translate(1168.9,1149.2) rotate(90)"/>
<text x="972.2" y="1123.2" font-size="55" text-anchor="middle" stroke="#000" stroke-width="0.9" textLength="104.3" lengthAdjust="spacingAndGlyphs">35.5</text>
<path d="M776,218.5 H1051.5 L1062,229 V329.6 H1244.5 L1256,339.7 V440 H1439.7 L1449.8,451.7 V531 Q1449.8,537.4 1443,537.4 H1168.4 V641" fill="none" stroke="#000" stroke-width="7.2" stroke-linejoin="round"/>
<path d="M800,218.5 H776 V458 H814.5 V851.7 H775.8 V1089 H809.3 V1061 H1116.6 L1130,1047.6 V858 M776,1061 H810" fill="none" stroke="#000" stroke-width="7.2" stroke-linejoin="round"/>
<path d="M776,459 L785.3,476 H797.8 L803.5,458" fill="none" stroke="#000" stroke-width="5.5" stroke-linejoin="round"/>
<path d="M775.8,851.7 L786.7,834 H800 L805,851.7" fill="none" stroke="#000" stroke-width="5.5" stroke-linejoin="round"/>
<rect x="798.0" y="248.4" width="22.900000000000023" height="45.499999999999986" rx="2.5" fill="none" stroke="#000" stroke-width="3.2"/>
<rect x="836.4" y="769.9" width="20.900000000000023" height="44.40000000000002" rx="2.5" fill="none" stroke="#000" stroke-width="3.2"/>
<rect x="798.1" y="986.5" width="22.900000000000023" height="43.699999999999974" rx="2.5" fill="none" stroke="#000" stroke-width="3.2"/>
<line x1="814.5" y1="650.5" x2="1078.4" y2="650.5" stroke="#000" stroke-width="4" />
<line x1="814.5" y1="686.6" x2="1078.4" y2="686.6" stroke="#000" stroke-width="4" />
<path d="M1124,640.5 L1116,637 H1078.3 V700 H1109.2" fill="none" stroke="#000" stroke-width="4.2" stroke-linejoin="round"/>
<path d="M1113.5,637 V537.4 H1168.4" fill="none" stroke="#000" stroke-width="4.5" stroke-linejoin="round"/>
<path d="M1311.8,641.5 H1130 Q1109.2,641.5 1109.2,662 V760.8 L1102,773 Q1099,776 1091,777 Q1077,780 1077,787 Q1077,791 1082,793 L1117,808.5 Q1121,811.3 1128,811.3 H1256.2 L1400,771.2 L1467.9,811 H1715.6 Q1721.6,811 1721.6,817 V886 Q1721.6,894 1729.3,894 Q1737,894 1737,886 V800 Q1737,793.5 1731,793.5 Q1727,791 1723,794 Q1718,789 1713,791.5 Q1708,787 1703,789.5 Q1698,785 1692,786.5 C1670,778 1657,765 1652,748 C1649,733 1645,724 1633.2,721.2 Z" fill="none" stroke="#000" stroke-width="5.6" stroke-linejoin="round"/>
<path d="M1096,700 V751 Q1096,756.5 1090,756.5 H1081 Q1068.3,758 1068.3,772 V790.8 L1090,803 Q1096,806 1096,812 V858 H1125" fill="none" stroke="#000" stroke-width="3.8" stroke-linejoin="round"/>
<path d="M1125,858 H1162.7 Q1168.7,858 1168.7,852 V811.5" fill="none" stroke="#000" stroke-width="5.5" stroke-linejoin="round"/>
<circle cx="1131.2" cy="780.4" r="13.8" fill="none" stroke="#000" stroke-width="6.4"/>
<line x1="1130" y1="858" x2="1130" y2="1048" stroke="#000" stroke-width="5" />
<path d="M1547.5,797 V831 A10.7,10.7 0 0 0 1569,831 V811" fill="none" stroke="#000" stroke-width="5"/>
<path d="M1547.5,797 Q1547,786 1554,782 L1622,739 Q1629,735.5 1636,737.5" fill="none" stroke="#000" stroke-width="3.8" stroke-dasharray="11 7"/>
<path d="M1570,806 V789 L1628,752.5 Q1639.6,752 1639.6,766 V811" fill="none" stroke="#000" stroke-width="3.8" stroke-dasharray="11 7"/>
</svg></body></html>
